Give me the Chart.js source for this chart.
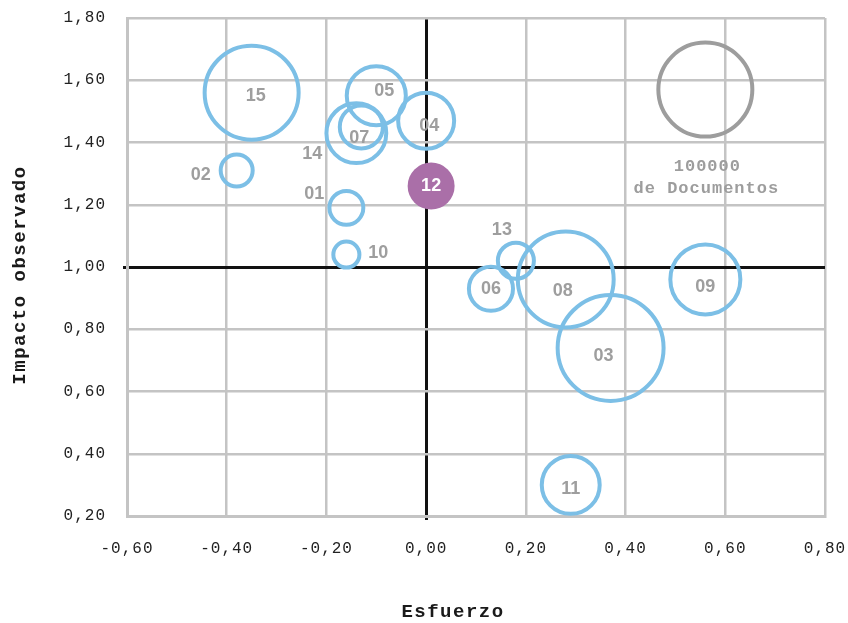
<!DOCTYPE html>
<html lang="es">
<head>
<meta charset="utf-8">
<title>Esfuerzo vs impacto observado</title>
<script src="https://cdn.jsdelivr.net/npm/chart.js@4.4.1/dist/chart.umd.min.js"></script>
<style>
  html, body { margin: 0; padding: 0; background: #ffffff; }
  #wrap { width: 848px; height: 623px; }
</style>
</head>
<body>
<div id="wrap"><canvas id="grafico" width="848" height="623"></canvas></div>
<script>
// Grupos: código, esfuerzo (x), impacto observado (y) y número de documentos (tamaño)
const codigos    = ['01', '02', '03', '04', '05', '06', '07', '08', '09', '10', '11', '12', '13', '14', '15'];
const esfuerzo   = [-0.16, -0.38, 0.37, 0.00, -0.10, 0.13, -0.14, 0.28, 0.56, -0.16, 0.29, 0.01, 0.18, -0.13, -0.35];
const impacto    = [1.19, 1.31, 0.74, 1.47, 1.55, 0.93, 1.43, 0.96, 0.96, 1.04, 0.30, 1.26, 1.02, 1.45, 1.56];
const documentos = [13000, 11600, 127000, 35500, 39500, 22000, 40500, 104000, 55500, 7700, 38000, 25000, 14700, 21000, 100000];
const destacado  = '12';

// Burbuja de referencia de la leyenda de tamaños
const refEsfuerzo   = [0.56];
const refImpacto    = [1.57];
const refDocumentos = [100000];
const refTexto      = ['100000', 'de Documentos'];

// Marcas de los ejes
const ticksX = [-0.6, -0.4, -0.2, 0.0, 0.2, 0.4, 0.6, 0.8];
const ticksY = [0.2, 0.4, 0.6, 0.8, 1.0, 1.2, 1.4, 1.6, 1.8];

// Estilo
const RADIO_REF   = 47;          // radio (px) de 100000 documentos
const AZUL        = '#7cbfe6';
const MORADO      = '#aa6fa8';
const GRIS_REF    = '#9d9d9d';
const GRIS_TEXTO  = '#9e9e9e';
const GRIS_REJA   = '#c4c4c4';
const NEGRO_EJE   = '#111111';
const MONO        = '"Liberation Mono", "DejaVu Sans Mono", monospace';
const SANS        = '"Liberation Sans", Arial, sans-serif';

// Desplazamiento de cada etiqueta respecto al centro de su burbuja (px)
const desplazEtiqueta = {
  '01': [-32, -14], '02': [-36, 5], '03': [-7, 8], '04': [3, 5], '05': [8, -5],
  '06': [0, 0], '07': [3, 5], '08': [-3, 12], '09': [0, 8], '10': [32, -2],
  '11': [0, 4], '12': [0, 0], '13': [-14, -31], '14': [-49, 27], '15': [4, 3]
};

const radio = d => RADIO_REF * Math.sqrt(d / 100000);
const formato = v => (Math.abs(v) < 1e-9 ? 0 : v).toFixed(2).replace('.', ',');

const puntos = codigos.map((c, i) => ({ x: esfuerzo[i], y: impacto[i], r: radio(documentos[i]), codigo: c }));
const puntosRef = refEsfuerzo.map((x, i) => ({ x, y: refImpacto[i], r: radio(refDocumentos[i]) }));

const esDestacado = ctx => ctx.raw && ctx.raw.codigo === destacado;
const esCeroX = c => Math.abs(c.tick.value) < 1e-9;
const esUnoY  = c => Math.abs(c.tick.value - 1) < 1e-9;

// Espaciado de letras para los textos monoespaciados
const espaciado = {
  id: 'espaciado',
  beforeUpdate(chart) { chart.ctx.letterSpacing = '1px'; },
  beforeDraw(chart) { chart.ctx.letterSpacing = '1px'; }
};

// Etiquetas de las burbujas, texto de referencia y títulos de los ejes
const textos = {
  id: 'textos',
  afterDatasetsDraw(chart) {
    const ctx = chart.ctx;
    ctx.save();
    ctx.letterSpacing = '0px';
    ctx.textAlign = 'center';
    ctx.textBaseline = 'middle';
    ctx.font = 'bold 18px ' + SANS;
    const meta = chart.getDatasetMeta(0);
    meta.data.forEach((el, i) => {
      const c = codigos[i];
      const [dx, dy] = desplazEtiqueta[c] || [0, 0];
      ctx.fillStyle = c === destacado ? '#ffffff' : GRIS_TEXTO;
      ctx.fillText(c, el.x + dx, el.y + dy);
    });

    const ref = chart.getDatasetMeta(1).data[0];
    ctx.letterSpacing = '1px';
    ctx.font = 'bold 17px ' + MONO;
    ctx.fillStyle = GRIS_REF;
    ctx.fillText(refTexto[0], ref.x + 2, ref.y + 77);
    ctx.fillText(refTexto[1], ref.x + 1, ref.y + 99);

    ctx.fillStyle = '#1a1a1a';
    ctx.letterSpacing = '1.5px';
    ctx.font = 'bold 19px ' + MONO;
    ctx.fillText('Esfuerzo', 453, 612);
    ctx.translate(20, 275);
    ctx.rotate(-Math.PI / 2);
    ctx.fillText('Impacto observado', 0, 0);
    ctx.restore();
  }
};

new Chart(document.getElementById('grafico'), {
  type: 'bubble',
  data: {
    datasets: [
      {
        data: puntos,
        backgroundColor: ctx => esDestacado(ctx) ? MORADO : 'rgba(0,0,0,0)',
        borderColor: ctx => esDestacado(ctx) ? MORADO : AZUL,
        borderWidth: ctx => esDestacado(ctx) ? 0 : 4,
        hoverBorderWidth: ctx => esDestacado(ctx) ? 0 : 4
      },
      {
        data: puntosRef,
        backgroundColor: 'rgba(0,0,0,0)',
        borderColor: GRIS_REF,
        borderWidth: 4
      }
    ]
  },
  options: {
    responsive: false,
    animation: false,
    devicePixelRatio: 1,
    layout: { autoPadding: false, padding: { top: 18, right: 23, left: 0, bottom: 0 } },
    plugins: { legend: { display: false }, tooltip: { enabled: false } },
    events: [],
    scales: {
      x: {
        type: 'linear',
        min: -0.6, max: 0.8,
        afterBuildTicks: s => { s.ticks = ticksX.map(v => ({ value: v })); },
        afterFit: s => { s.height = 107; s.paddingLeft = 0; s.paddingRight = 0; },
        border: { display: true, color: GRIS_REJA, width: 3 },
        grid: {
          drawTicks: true,
          tickLength: 4,
          tickColor: c => esCeroX(c) ? NEGRO_EJE : 'rgba(0,0,0,0)',
          color: c => esCeroX(c) ? NEGRO_EJE : GRIS_REJA,
          lineWidth: c => esCeroX(c) ? 3 : 2.5
        },
        ticks: {
          padding: 19,
          color: '#222222',
          font: { family: MONO, size: 16 },
          callback: v => formato(v)
        }
      },
      y: {
        type: 'linear',
        min: 0.2, max: 1.8,
        afterBuildTicks: s => { s.ticks = ticksY.map(v => ({ value: v })); },
        afterFit: s => { s.width = 127; s.paddingTop = 0; s.paddingBottom = 0; },
        border: { display: true, color: GRIS_REJA, width: 3 },
        grid: {
          drawTicks: true,
          tickLength: 4,
          tickColor: c => esUnoY(c) ? NEGRO_EJE : 'rgba(0,0,0,0)',
          color: c => esUnoY(c) ? NEGRO_EJE : GRIS_REJA,
          lineWidth: c => esUnoY(c) ? 3 : 2.5
        },
        ticks: {
          padding: 17,
          color: '#222222',
          font: { family: MONO, size: 16 },
          callback: v => formato(v)
        }
      }
    }
  },
  plugins: [espaciado, textos]
});
</script>
</body>
</html>
